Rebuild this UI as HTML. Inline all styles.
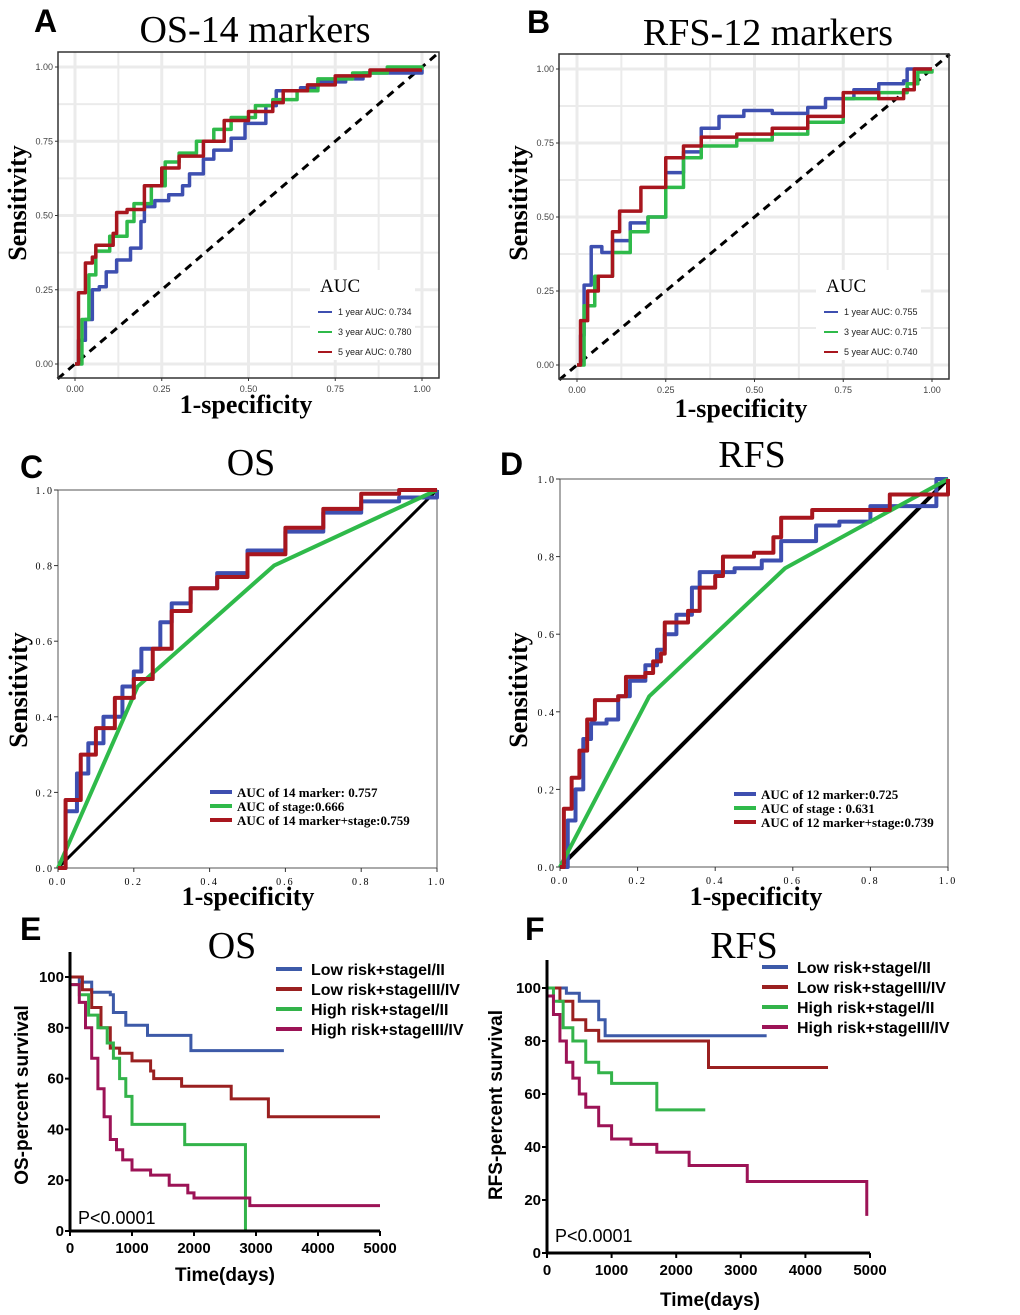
<!DOCTYPE html>
<html><head><meta charset="utf-8">
<style>
html,body{margin:0;padding:0;background:#fff;}
svg{display:block;}
</style></head>
<body>
<svg id="fig" width="1020" height="1315" xmlns="http://www.w3.org/2000/svg"></svg>
<script>
// ---------- DATA ----------
const aBlueX=[0,0.01,0.03,0.05,0.07,0.09,0.12,0.16,0.19,0.2,0.23,0.27,0.31,0.33,0.37,0.4,0.45,0.49,0.55,0.58,0.65,0.7,0.78,0.83,1];
const aBlueY=[0,0.08,0.15,0.25,0.26,0.31,0.35,0.39,0.48,0.53,0.55,0.57,0.6,0.64,0.69,0.72,0.76,0.81,0.87,0.92,0.93,0.95,0.96,0.98,0.99];
const aGreenX=[0,0.02,0.04,0.06,0.1,0.15,0.17,0.22,0.26,0.3,0.35,0.4,0.45,0.52,0.57,0.64,0.7,0.8,0.9,1];
const aGreenY=[0,0.15,0.3,0.38,0.43,0.48,0.54,0.6,0.68,0.71,0.75,0.79,0.83,0.87,0.89,0.92,0.96,0.98,1.0,0.99];
const aRedX=[0,0.01,0.03,0.05,0.06,0.11,0.12,0.15,0.2,0.25,0.3,0.37,0.43,0.5,0.57,0.6,0.67,0.75,0.85,1];
const aRedY=[0,0.24,0.34,0.36,0.4,0.44,0.51,0.52,0.6,0.66,0.7,0.75,0.82,0.85,0.88,0.92,0.94,0.97,0.99,0.99];

const bBlueX=[0,0.01,0.02,0.04,0.07,0.1,0.15,0.2,0.25,0.3,0.35,0.4,0.47,0.55,0.65,0.7,0.78,0.85,0.92,0.93,1];
const bBlueY=[0,0.1,0.27,0.4,0.38,0.42,0.48,0.5,0.65,0.72,0.8,0.84,0.86,0.85,0.87,0.9,0.93,0.95,0.96,1.0,1.0];
const bGreenX=[0,0.02,0.05,0.1,0.15,0.2,0.25,0.3,0.35,0.45,0.55,0.65,0.75,0.85,0.93,0.96,1];
const bGreenY=[0,0.2,0.3,0.38,0.45,0.5,0.6,0.7,0.74,0.76,0.78,0.82,0.9,0.92,0.95,0.99,1];
const bRedX=[0,0.01,0.03,0.06,0.1,0.12,0.18,0.22,0.25,0.3,0.35,0.45,0.55,0.65,0.75,0.85,0.92,0.95,1];
const bRedY=[0,0.15,0.25,0.3,0.45,0.52,0.6,0.6,0.7,0.74,0.77,0.78,0.8,0.84,0.92,0.9,0.93,1.0,1];

const cBlueX=[0,0.02,0.05,0.08,0.12,0.17,0.2,0.22,0.27,0.3,0.35,0.42,0.5,0.6,0.7,0.8,0.9,1];
const cBlueY=[0,0.15,0.25,0.33,0.4,0.48,0.52,0.58,0.65,0.7,0.74,0.78,0.84,0.89,0.94,0.97,0.98,1];
const cGreenX=[0,0.21,0.57,1];
const cGreenY=[0,0.48,0.8,1];
const cRedX=[0,0.02,0.06,0.1,0.15,0.2,0.25,0.3,0.35,0.42,0.5,0.6,0.7,0.8,0.9,1];
const cRedY=[0,0.18,0.3,0.37,0.45,0.5,0.58,0.68,0.74,0.77,0.83,0.9,0.95,0.99,1,1];

const dBlueX=[0,0.02,0.04,0.06,0.08,0.12,0.15,0.18,0.22,0.25,0.27,0.3,0.34,0.36,0.45,0.52,0.57,0.62,0.66,0.72,0.8,0.93,0.97,1];
const dBlueY=[0,0.12,0.2,0.33,0.37,0.38,0.44,0.48,0.52,0.56,0.6,0.65,0.72,0.76,0.77,0.79,0.84,0.84,0.88,0.89,0.93,0.93,1,1];
const dGreenX=[0,0.23,0.58,1];
const dGreenY=[0,0.44,0.77,1];
const dRedX=[0,0.01,0.03,0.05,0.07,0.09,0.15,0.17,0.22,0.24,0.26,0.27,0.33,0.36,0.4,0.42,0.5,0.55,0.57,0.65,0.82,0.85,0.97,1];
const dRedY=[0,0.15,0.23,0.3,0.38,0.43,0.44,0.49,0.5,0.53,0.55,0.63,0.66,0.72,0.75,0.8,0.81,0.85,0.9,0.92,0.92,0.96,0.96,1];

const eBlueT=[0,150,350,650,700,900,1250,1950,3450];
const eBlueS=[100,98,94,93,86,81,77,71,71];
const eRedT=[0,200,350,500,650,800,1000,1300,1350,1800,2600,3200,5000];
const eRedS=[100,95,88,80,72,70,67,63,60,57,52,45,45];
const eGreenT=[0,150,300,450,600,700,800,900,1000,1850,2830,2830];
const eGreenS=[97,93,85,80,74,68,60,53,42,34,0,0];
const eMagT=[0,150,250,350,450,550,650,750,850,1000,1300,1600,1900,2000,2900,5000];
const eMagS=[97,90,80,68,56,45,36,32,28,24,22,18,15,13,10,10];

const fBlueT=[0,300,500,800,900,3400];
const fBlueS=[100,98,95,88,82,82];
const fRedT=[0,200,400,600,800,2500,4350];
const fRedS=[100,95,88,84,80,70,70];
const fGreenT=[0,100,250,400,600,800,1000,1700,2450];
const fGreenS=[100,95,85,80,72,68,64,54,54];
const fMagT=[0,100,200,300,400,500,600,800,1000,1300,1700,2200,3100,4950,4950];
const fMagS=[97,90,80,72,66,60,55,48,43,41,38,33,27,14,14];

const rocTicks=["0.00","0.25","0.50","0.75","1.00"];
const rocTicks2=["0.0","0.2","0.4","0.6","0.8","1.0"];
const kmXTicks=[0,1000,2000,3000,4000,5000];
const kmYTicks=[0,20,40,60,80,100];

// ---------- HELPERS ----------
const NS="http://www.w3.org/2000/svg";
const svg=document.getElementById('fig');
function mk(tag,attrs,parent,text){const e=document.createElementNS(NS,tag);for(const k in attrs)e.setAttribute(k,attrs[k]);if(text!==undefined)e.textContent=text;(parent||svg).appendChild(e);return e;}
function lin(d0,d1,r0,r1){return v=>r0+(v-d0)/(d1-d0)*(r1-r0);}
const BLUE="#3e4fb0",GREEN="#2fba4a",RED="#a8161e",MAG="#9c1356",KBLUE="#3d5aa8",KRED="#9a2020",KGREEN="#33b34a";
function txt(x,y,s,size,opts,name){const t=mk('text',Object.assign({x:x,y:y,'font-size':size,'font-family':'"Liberation Serif",serif',fill:'#000'},opts||{}),svg,s);return t;}
function stepPath(xs,ys,sx,sy){let d='M'+sx(xs[0])+','+sy(ys[0]);for(let i=1;i<xs.length;i++){d+='L'+sx(xs[i])+','+sy(ys[i-1])+'L'+sx(xs[i])+','+sy(ys[i]);}return d;}
function linePath(xs,ys,sx,sy){return xs.map((v,i)=>(i?'L':'M')+sx(v)+','+sy(ys[i])).join('');}

// ---------- ROC ggplot panels (A,B) ----------
function ggPanel(o){
  const sx=lin(0,1,o.x0,o.x1), sy=lin(0,1,o.y0,o.y1);
  const g=mk('g',{});
  for(let i=0;i<=8;i++){const v=i/8;const w=i%2?2:3;
    mk('line',{x1:sx(v),x2:sx(v),y1:o.by0,y2:o.by1,stroke:'#ebebeb','stroke-width':w},g);
    mk('line',{x1:o.bx0,x2:o.bx1,y1:sy(v),y2:sy(v),stroke:'#ebebeb','stroke-width':w},g);}
  mk('line',{x1:sx(-0.05),y1:sy(-0.05),x2:sx(1.05),y2:sy(1.05),stroke:'#000','stroke-width':3,'stroke-dasharray':'8,6'},g);
  o.series.forEach(s=>{const p=mk('path',{d:stepPath(s.x,s.y,sx,sy),fill:'none',stroke:s.c,'stroke-width':3.5,'stroke-linejoin':'round'},g);});
  mk('rect',{x:o.bx0,y:o.by0,width:o.bx1-o.bx0,height:o.by1-o.by0,fill:'none',stroke:'#333','stroke-width':1.5},g);
  rocTicks.forEach((t,i)=>{const v=i/4;
    mk('line',{x1:sx(v),x2:sx(v),y1:o.by1,y2:o.by1+3,stroke:'#333'},g);
    mk('line',{x1:o.bx0-3,x2:o.bx0,y1:sy(v),y2:sy(v),stroke:'#333'},g);
    const a=mk('text',{x:sx(v),y:o.by1+14,'font-size':9,'text-anchor':'middle','font-family':'"Liberation Sans",sans-serif',fill:'#444'},g,t);
    const b=mk('text',{x:o.bx0-5,y:sy(v)+3,'font-size':9,'text-anchor':'end','font-family':'"Liberation Sans",sans-serif',fill:'#444'},g,t);});
  const lg=mk('g',{},g);
  mk('rect',{x:o.lx-8,y:o.ly-32,width:105,height:90,fill:'#fff'},lg);
  mk('text',{x:o.lx+2,y:o.ly-10,'font-size':19,'font-family':'"Liberation Serif",serif'},lg,'AUC');
  o.leg.forEach((l,i)=>{const y=o.ly+10+i*20;mk('line',{x1:o.lx,x2:o.lx+14,y1:y,y2:y,stroke:o.series[i].c,'stroke-width':2},lg);
    const t=mk('text',{x:o.lx+20,y:y+3,'font-size':9,'font-family':'"Liberation Sans",sans-serif',fill:'#222'},lg,l);});
}
ggPanel({name:'panel-a',x0:75,x1:422,y0:364,y1:67,bx0:58,bx1:439,by0:52,by1:378,lx:318,ly:302,
  series:[{x:aBlueX,y:aBlueY,c:BLUE,n:'roc-1-year'},{x:aGreenX,y:aGreenY,c:GREEN,n:'roc-3-year'},{x:aRedX,y:aRedY,c:RED,n:'roc-5-year'}],
  leg:['1 year AUC: 0.734','3 year AUC: 0.780','5 year AUC: 0.780']});
ggPanel({name:'panel-b',x0:577,x1:932,y0:365,y1:69,bx0:559,bx1:949,by0:54,by1:379,lx:824,ly:302,
  series:[{x:bBlueX,y:bBlueY,c:BLUE,n:'roc-1-year'},{x:bGreenX,y:bGreenY,c:GREEN,n:'roc-3-year'},{x:bRedX,y:bRedY,c:RED,n:'roc-5-year'}],
  leg:['1 year AUC: 0.755','3 year AUC: 0.715','5 year AUC: 0.740']});
txt(34,32,'A',32,{'font-family':'"Liberation Sans",sans-serif','font-weight':'bold'},'panel-label-a');
txt(527,33,'B',32,{'font-family':'"Liberation Sans",sans-serif','font-weight':'bold'},'panel-label-b');
txt(255,42,'OS-14 markers',38,{'text-anchor':'middle'},'title-a');
txt(768,45,'RFS-12 markers',38,{'text-anchor':'middle'},'title-b');
txt(246,413,'1-specificity',26,{'text-anchor':'middle','font-weight':'bold'},'x-axis-title-a');
txt(741,417,'1-specificity',26,{'text-anchor':'middle','font-weight':'bold'},'x-axis-title-b');
txt(26,203,'Sensitivity',26,{'text-anchor':'middle','font-weight':'bold',transform:'rotate(-90 26 203)'},'y-axis-title-a');
txt(527,203,'Sensitivity',26,{'text-anchor':'middle','font-weight':'bold',transform:'rotate(-90 527 203)'},'y-axis-title-b');

// ---------- ROC SPSS panels (C,D) ----------
function spPanel(o){
  const sx=lin(0,1,o.x0,o.x1), sy=lin(0,1,o.y0,o.y1);
  const g=mk('g',{});
  mk('rect',{x:o.x0,y:o.y1,width:o.x1-o.x0,height:o.y0-o.y1,fill:'none',stroke:'#555','stroke-width':1},g);
  mk('line',{x1:sx(0),y1:sy(0),x2:sx(1),y2:sy(1),stroke:'#000','stroke-width':o.dw},g);
  o.series.forEach(s=>{const p=mk('path',{d:(s.lin?linePath:stepPath)(s.x,s.y,sx,sy),fill:'none',stroke:s.c,'stroke-width':4,'stroke-linejoin':'round'},g);});
  rocTicks2.forEach((t,i)=>{const v=i/5;
    mk('line',{x1:sx(v),x2:sx(v),y1:o.y0,y2:o.y0+4,stroke:'#333'},g);
    mk('line',{x1:o.x0-4,x2:o.x0,y1:sy(v),y2:sy(v),stroke:'#333'},g);
    const a=mk('text',{x:sx(v),y:o.y0+17,'font-size':10,'text-anchor':'middle','letter-spacing':2,'font-family':'"Liberation Serif",serif'},g,t);
    const b=mk('text',{x:o.x0-4,y:sy(v)+4,'font-size':10,'text-anchor':'end','letter-spacing':2,'font-family':'"Liberation Serif",serif'},g,t);});
  o.leg.forEach((l,i)=>{const y=o.ly+i*14;mk('line',{x1:o.lx,x2:o.lx+22,y1:y,y2:y,stroke:o.series[i].c,'stroke-width':4},g);
    const t=mk('text',{x:o.lx+27,y:y+5,'font-size':13,'font-weight':'bold','font-family':'"Liberation Serif",serif'},g,l);});
}
spPanel({name:'panel-c',x0:58,x1:437,y0:868,y1:490,dw:3,lx:210,ly:792,
  series:[{x:cBlueX,y:cBlueY,c:BLUE,n:'roc-14-marker'},{x:cGreenX,y:cGreenY,c:GREEN,n:'roc-stage',lin:1},{x:cRedX,y:cRedY,c:RED,n:'roc-14-marker-stage'}],
  leg:['AUC of 14 marker: 0.757','AUC of stage:0.666','AUC of 14 marker+stage:0.759']});
spPanel({name:'panel-d',x0:560,x1:948,y0:867,y1:479,dw:4,lx:734,ly:794,
  series:[{x:dBlueX,y:dBlueY,c:BLUE,n:'roc-12-marker'},{x:dGreenX,y:dGreenY,c:GREEN,n:'roc-stage',lin:1},{x:dRedX,y:dRedY,c:RED,n:'roc-12-marker-stage'}],
  leg:['AUC of 12 marker:0.725','AUC of stage : 0.631','AUC of 12 marker+stage:0.739']});
txt(20,478,'C',32,{'font-family':'"Liberation Sans",sans-serif','font-weight':'bold'},'panel-label-c');
txt(500,475,'D',32,{'font-family':'"Liberation Sans",sans-serif','font-weight':'bold'},'panel-label-d');
txt(251,475,'OS',38,{'text-anchor':'middle'},'title-c');
txt(752,467,'RFS',38,{'text-anchor':'middle'},'title-d');
txt(248,905,'1-specificity',26,{'text-anchor':'middle','font-weight':'bold'},'x-axis-title-c');
txt(756,905,'1-specificity',26,{'text-anchor':'middle','font-weight':'bold'},'x-axis-title-d');
txt(27,690,'Sensitivity',26,{'text-anchor':'middle','font-weight':'bold',transform:'rotate(-90 27 690)'},'y-axis-title-c');
txt(527,690,'Sensitivity',26,{'text-anchor':'middle','font-weight':'bold',transform:'rotate(-90 527 690)'},'y-axis-title-d');

// ---------- KM panels (E,F) ----------
function kmPanel(o){
  const sx=lin(0,5000,o.x0,o.x1), sy=lin(0,100,o.y0,o.y1);
  const g=mk('g',{});
  o.series.forEach(s=>{const p=mk('path',{d:stepPath(s.t,s.s,sx,sy),fill:'none',stroke:s.c,'stroke-width':3},g);});
  mk('line',{x1:o.x0,x2:o.x0,y1:o.y0,y2:o.top,stroke:'#000','stroke-width':3},g);
  mk('line',{x1:o.x0,x2:o.x1,y1:o.y0,y2:o.y0,stroke:'#000','stroke-width':3},g);
  kmXTicks.forEach(v=>{mk('line',{x1:sx(v),x2:sx(v),y1:o.y0,y2:o.y0+5,stroke:'#000','stroke-width':2},g);
    const a=mk('text',{x:sx(v),y:o.y0+22,'font-size':15,'font-weight':'bold','text-anchor':'middle','font-family':'"Liberation Sans",sans-serif'},g,v);});
  kmYTicks.forEach(v=>{mk('line',{x1:o.x0-5,x2:o.x0,y1:sy(v),y2:sy(v),stroke:'#000','stroke-width':2},g);
    const b=mk('text',{x:o.x0-6,y:sy(v)+5,'font-size':15,'font-weight':'bold','text-anchor':'end','font-family':'"Liberation Sans",sans-serif'},g,v);});
  o.leg.forEach((l,i)=>{const y=o.ly+i*20;mk('line',{x1:o.lx,x2:o.lx+26,y1:y,y2:y,stroke:o.series[i].c,'stroke-width':4},g);
    const t=mk('text',{x:o.lx+35,y:y+6,'font-size':16,'font-weight':'bold','font-family':'"Liberation Sans",sans-serif'},g,l);});
  const p=mk('text',{x:o.x0+8,y:o.py,'font-size':18,'font-family':'"Liberation Sans",sans-serif'},g,'P<0.0001');
}
const legKM=['Low risk+stageI/II','Low risk+stageIII/IV','High risk+stageI/II','High risk+stageIII/IV'];
kmPanel({name:'panel-e',x0:70,x1:380,y0:1231,y1:977,top:952,lx:276,ly:969,py:1224,
  series:[{t:eBlueT,s:eBlueS,c:KBLUE,n:'km-low-risk-stage-i-ii'},{t:eRedT,s:eRedS,c:KRED,n:'km-low-risk-stage-iii-iv'},{t:eGreenT,s:eGreenS,c:KGREEN,n:'km-high-risk-stage-i-ii'},{t:eMagT,s:eMagS,c:MAG,n:'km-high-risk-stage-iii-iv'}],leg:legKM});
kmPanel({name:'panel-f',x0:547,x1:870,y0:1253,y1:988,top:960,lx:762,ly:967,py:1242,
  series:[{t:fBlueT,s:fBlueS,c:KBLUE,n:'km-low-risk-stage-i-ii'},{t:fRedT,s:fRedS,c:KRED,n:'km-low-risk-stage-iii-iv'},{t:fGreenT,s:fGreenS,c:KGREEN,n:'km-high-risk-stage-i-ii'},{t:fMagT,s:fMagS,c:MAG,n:'km-high-risk-stage-iii-iv'}],leg:legKM});
txt(20,940,'E',32,{'font-family':'"Liberation Sans",sans-serif','font-weight':'bold'},'panel-label-e');
txt(525,940,'F',32,{'font-family':'"Liberation Sans",sans-serif','font-weight':'bold'},'panel-label-f');
txt(232,958,'OS',38,{'text-anchor':'middle'},'title-e');
txt(744,958,'RFS',38,{'text-anchor':'middle'},'title-f');
txt(225,1281,'Time(days)',19,{'text-anchor':'middle','font-weight':'bold','font-family':'"Liberation Sans",sans-serif'},'x-axis-title-e');
txt(710,1306,'Time(days)',19,{'text-anchor':'middle','font-weight':'bold','font-family':'"Liberation Sans",sans-serif'},'x-axis-title-f');
txt(28,1095,'OS-percent survival',19,{'text-anchor':'middle','font-weight':'bold','font-family':'"Liberation Sans",sans-serif',transform:'rotate(-90 28 1095)'},'y-axis-title-e');
txt(502,1105,'RFS-percent survival',19,{'text-anchor':'middle','font-weight':'bold','font-family':'"Liberation Sans",sans-serif',transform:'rotate(-90 502 1105)'},'y-axis-title-f');
</script>
</body></html>
